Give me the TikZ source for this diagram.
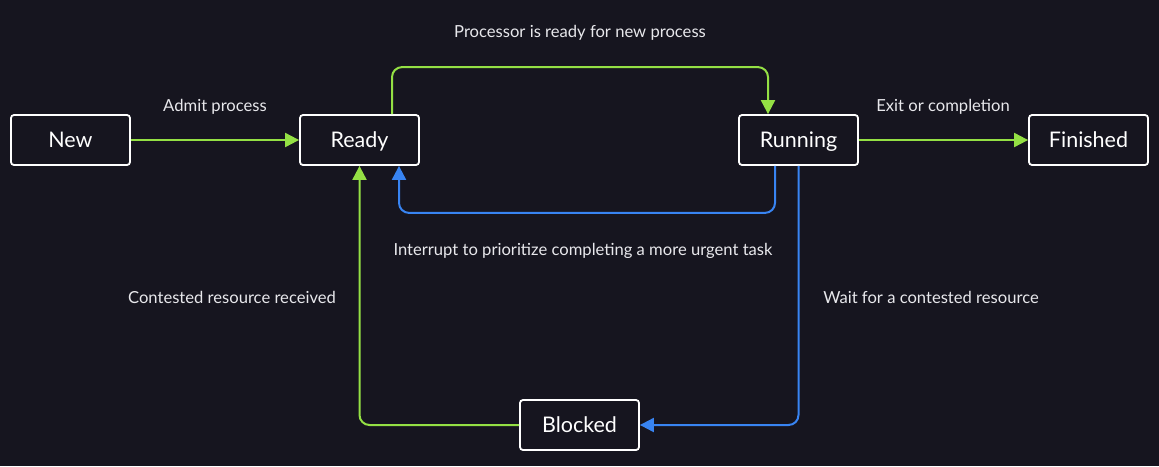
\documentclass[tikz,border=0pt]{standalone}
\usepackage{fontspec}
\setmainfont{Lato}
\usetikzlibrary{arrows.meta}
\definecolor{bg}{RGB}{22,21,31}
\definecolor{lgreen}{RGB}{148,224,68}
\definecolor{lblue}{RGB}{56,132,242}
\definecolor{ltext}{RGB}{232,232,236}
\begin{document}
\begin{tikzpicture}[x=1pt,y=-1pt,
  state/.style={draw=white,line width=1.8pt,fill=bg,rounded corners=3pt,minimum width=119pt,minimum height=50pt,inner sep=0pt,text height=15.5pt,text depth=0pt,text=white,font=\fontsize{21.5}{24}\selectfont},
  lbl/.style={text=ltext,font=\fontsize{16.6}{19}\selectfont,inner sep=0pt,yshift=-1.5pt},
  garrow/.style={draw=lgreen,line width=2pt,rounded corners=10pt,-{Triangle[length=14pt,width=14pt]}},
  barrow/.style={draw=lblue,line width=2pt,rounded corners=10pt,-{Triangle[length=14pt,width=14pt]}}]
\fill[bg] (0,0) rectangle (1159,466);
\useasboundingbox (0,0) rectangle (1159,466);
\node[state] (new) at (70.5,140) {New};
\node[state] (ready) at (359.5,140) {Ready};
\node[state] (running) at (798.5,140) {Running};
\node[state] (finished) at (1088.5,140) {Finished};
\node[state] (blocked) at (579.5,425) {Blocked};
\draw[garrow] (new) -- (ready);
\draw[garrow] (running) -- (finished);
\draw[garrow] ([xshift=32.5pt]ready.north) -- ++(0,-47) -| ([xshift=-30.5pt]running.north);
\draw[barrow] ([xshift=-23.5pt]running.south) -- ++(0,47) -| ([xshift=39.5pt]ready.south);
\draw[barrow] (running.south) |- (blocked.east);
\draw[garrow] (blocked.west) -| (ready.south);
\node[lbl] (l1) at (580,31) {Processor is ready for new process};
\node[lbl] (l2) at (215,105) {Admit process};
\node[lbl] (l3) at (943,105) {Exit or completion};
\node[lbl] (l4) at (583,249) {Interrupt to prioritize completing a more urgent task};
\node[lbl] (l5) at (232,296) {Contested resource received};
\node[lbl] (l6) at (931,296) {Wait for a contested resource};
\end{tikzpicture}
\end{document}
